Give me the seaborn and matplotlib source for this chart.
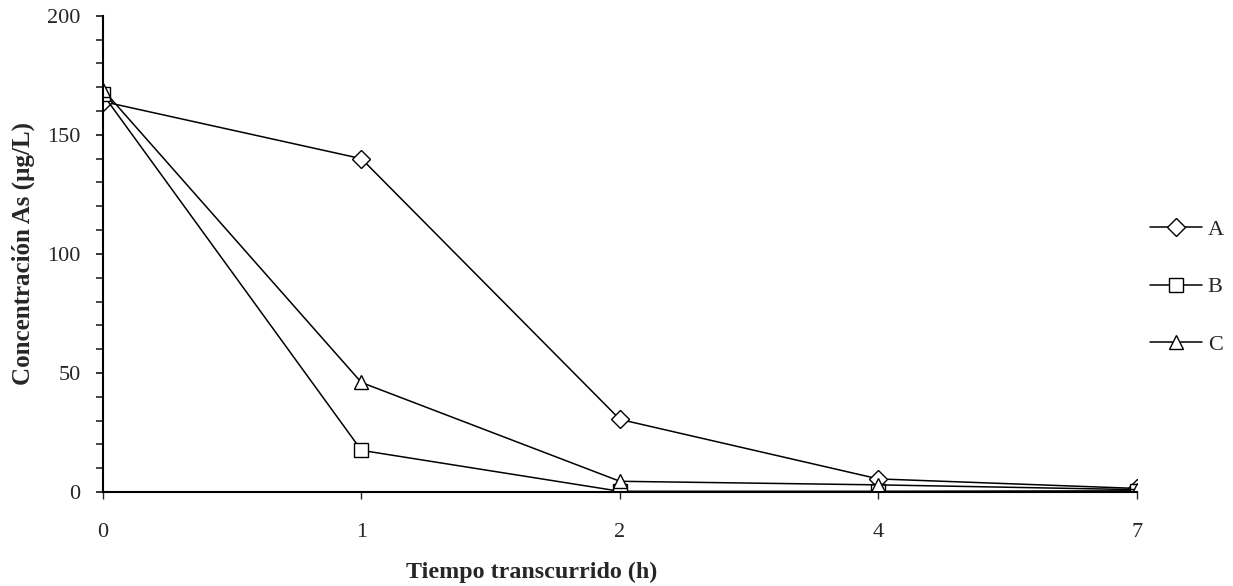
import numpy as np
import pandas as pd
import matplotlib
matplotlib.use("Agg")
import matplotlib.pyplot as plt
import seaborn as sns
from matplotlib.ticker import MultipleLocator

# Data
tiempo = ["0", "1", "2", "4", "7"]
serie_a = [164, 140, 30.5, 5.5, 1.5]
serie_b = [167, 17.5, 0.3, 0.3, 0.5]
serie_c = [169, 46, 4.5, 3.0, 1.0]

df = pd.DataFrame({
    "tiempo": tiempo * 3,
    "conc": serie_a + serie_b + serie_c,
    "serie": ["A"] * 5 + ["B"] * 5 + ["C"] * 5,
})

sns.set_style("white")
plt.rcParams['font.family'] = ['Liberation Serif', 'DejaVu Serif']

fig = plt.figure(figsize=(12.33, 5.86), dpi=100)
ax = fig.add_axes([0.0835, 0.1604, 0.8385, 0.8126])

sns.lineplot(data=df, x="tiempo", y="conc", style="serie",
             markers={"A": "D", "B": "s", "C": "^"}, dashes=False,
             color="black", linewidth=1.1, markersize=9.5,
             markerfacecolor="white", markeredgecolor="black",
             markeredgewidth=1.0, sort=False, ax=ax)

ax.set_xlim(0, 4)
ax.set_ylim(0, 200)
ax.yaxis.set_major_locator(MultipleLocator(50))
ax.yaxis.set_minor_locator(MultipleLocator(10))

for s in ["top", "right"]:
    ax.spines[s].set_visible(False)
for s in ["left", "bottom"]:
    ax.spines[s].set_color("black")
    ax.spines[s].set_linewidth(1.5)

ax.tick_params(axis="y", which="major", direction="out", length=5, width=1.3,
               left=True, labelsize=16, pad=11)
ax.tick_params(axis="y", which="minor", direction="out", length=5, width=1.2, left=True)
ax.tick_params(axis="x", which="major", direction="out", length=5, width=1.0,
               bottom=True, labelsize=16, pad=17)

ax.set_xlabel("Tiempo transcurrido (h)", fontsize=17.3, fontweight="bold")
ax.set_ylabel("Concentración As (µg/L)", fontsize=18, fontweight="bold")
ax.xaxis.set_label_coords(0.415, -0.147)
ax.yaxis.set_label_coords(-0.066, 0.501)

leg = ax.legend(loc="center left", bbox_to_anchor=(1150 / 1233, 1 - 287 / 586),
                bbox_transform=fig.transFigure, frameon=False, borderpad=0,
                borderaxespad=0, fontsize=16, handlelength=2.35,
                labelspacing=1.65, handletextpad=0.25)
leg.set_title(None)

fig.savefig("out.png", dpi=100)
